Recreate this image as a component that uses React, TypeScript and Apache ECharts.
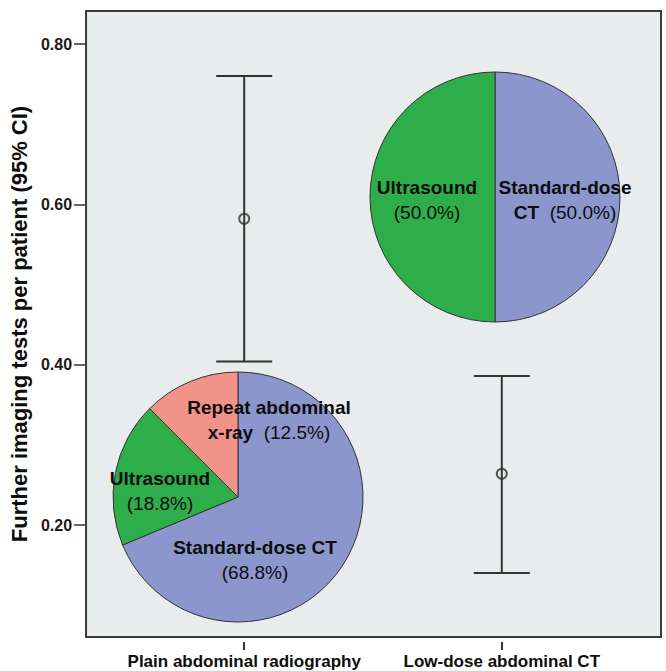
import React, { useEffect, useRef } from "react";
import * as echarts from "echarts";

// ---- data ----
const categories = ["Plain abdominal radiography", "Low-dose abdominal CT"];
const means = [0.582, 0.264];
const ciLower = [0.404, 0.14];
const ciUpper = [0.76, 0.386];
const yTicks = [0.2, 0.4, 0.6, 0.8];
const plainPieNames = ["Standard-dose CT", "Ultrasound", "Repeat abdominal x-ray"];
const plainPieValues = [68.8, 18.8, 12.5];
const lowDosePieNames = ["Standard-dose CT", "Ultrasound"];
const lowDosePieValues = [50.0, 50.0];

// ---- styles / layout ----
const FONT = "'Liberation Sans', Arial, sans-serif";
const sliceColors: Record<string, string> = {
  "Standard-dose CT": "#8A96CC",
  Ultrasound: "#2EAD4B",
  "Repeat abdominal x-ray": "#F2938A",
};
// words of the name kept on the first label line
const plainWrap = [2, 1, 2];
const lowDoseWrap = [1, 1];
// label block offsets relative to the pie centre (px)
const plainLabelOffsets = [
  [17, 63],
  [-78, -6],
  [31, -77],
];
const lowDoseLabelOffsets = [
  [70, 3],
  [-68, 3],
];
const plainCenter = [238, 497];
const lowDoseCenter = [495, 197];
const pieRadius = 125;

function makeFormatter(wrap: number[]) {
  return (p: any) => {
    const words = String(p.name).split(" ");
    const k = wrap[p.dataIndex];
    const first = words.slice(0, k).join(" ");
    const rest = words.slice(k).join(" ");
    const pct = "(" + Number(p.value).toFixed(1) + "%)";
    if (rest) return `{b|${first}}\n{b|${rest}}{p|  ${pct}}`;
    return `{b|${first}}\n{p|${pct}}`;
  };
}

function makeLayout(center: number[], offsets: number[][]) {
  return (params: any) => {
    const o = offsets[params.dataIndex];
    return {
      x: center[0] + o[0],
      y: center[1] + o[1],
      align: "center",
      verticalAlign: "middle",
    };
  };
}

const richStyles = {
  b: { fontFamily: FONT, fontWeight: "bold", fontSize: 19, color: "#0d0d0d", lineHeight: 25 },
  p: { fontFamily: FONT, fontWeight: "normal", fontSize: 19, color: "#0d0d0d", lineHeight: 25 },
};

function pieSeries(names: string[], values: number[], center: number[], wrap: number[], offsets: number[][]) {
  return {
    type: "pie",
    center,
    radius: pieRadius,
    startAngle: 90,
    clockwise: true,
    z: 5,
    data: names.map((n, i) => ({
      name: n,
      value: values[i],
      itemStyle: { color: sliceColors[n] },
    })),
    itemStyle: { borderColor: "#333", borderWidth: 1 },
    label: {
      show: true,
      position: "inside",
      formatter: makeFormatter(wrap),
      rich: richStyles,
    },
    labelLine: { show: false },
    labelLayout: makeLayout(center, offsets),
    emphasis: { disabled: true },
  };
}

export default function App() {
  const ref = useRef<HTMLDivElement>(null);
  useEffect(() => {
    if (!ref.current) return;
    const chart = echarts.init(ref.current, undefined, { renderer: "svg" });
    chart.setOption({
      animation: false,
      backgroundColor: "#ffffff",
      grid: {
        left: 83,
        right: 5,
        top: 11,
        bottom: 34,
        show: true,
        backgroundColor: "#E8ECEC",
        borderColor: "#3a3a3a",
        borderWidth: 2,
      },
      xAxis: {
        type: "value",
        min: 0.386,
        max: 2.618,
        offset: 5,
        splitLine: { show: false },
        axisLine: { show: false },
        axisTick: {
          show: true,
          customValues: [1, 2],
          length: 8,
          lineStyle: { color: "#333", width: 2 },
        },
        axisLabel: {
          customValues: [1, 2],
          formatter: (v: number) => categories[Math.round(v) - 1] ?? "",
          fontFamily: FONT,
          fontWeight: "bold",
          fontSize: 17,
          color: "#0d0d0d",
          margin: 11,
        },
      },
      yAxis: {
        type: "value",
        min: 0.0603,
        max: 0.8412,
        splitLine: { show: false },
        axisLine: { show: false },
        axisTick: {
          show: true,
          customValues: yTicks,
          length: 12,
          lineStyle: { color: "#333", width: 1.5 },
        },
        axisLabel: {
          customValues: yTicks,
          formatter: (v: number) => v.toFixed(2),
          fontFamily: FONT,
          fontWeight: "bold",
          fontSize: 16,
          color: "#1a1a1a",
          margin: 14,
        },
        name: "Further imaging tests per patient (95% CI)",
        nameLocation: "middle",
        nameGap: 50,
        nameTextStyle: {
          fontFamily: FONT,
          fontWeight: "bold",
          fontSize: 22,
          color: "#0d0d0d",
        },
      },
      series: [
        {
          type: "custom",
          z: 3,
          data: categories.map((_, i) => [i + 1, ciLower[i], ciUpper[i]]),
          renderItem: (params: any, api: any) => {
            const x = api.value(0);
            const lo = api.coord([x, api.value(1)]);
            const hi = api.coord([x, api.value(2)]);
            const hw = 28;
            const st = { stroke: "#333", lineWidth: 2 };
            return {
              type: "group",
              children: [
                { type: "line", shape: { x1: lo[0], y1: lo[1], x2: hi[0], y2: hi[1] }, style: st },
                { type: "line", shape: { x1: lo[0] - hw, y1: lo[1], x2: lo[0] + hw, y2: lo[1] }, style: st },
                { type: "line", shape: { x1: hi[0] - hw, y1: hi[1], x2: hi[0] + hw, y2: hi[1] }, style: st },
              ],
            };
          },
        },
        {
          type: "scatter",
          z: 4,
          symbol: "circle",
          symbolSize: 10,
          data: means.map((m, i) => [i + 1, m]),
          itemStyle: { color: "rgba(0,0,0,0)", borderColor: "#333", borderWidth: 2 },
          emphasis: { disabled: true },
        },
        pieSeries(plainPieNames, plainPieValues, plainCenter, plainWrap, plainLabelOffsets),
        pieSeries(lowDosePieNames, lowDosePieValues, lowDoseCenter, lowDoseWrap, lowDoseLabelOffsets),
      ],
    });
    return () => chart.dispose();
  }, []);
  return (
    <div
      ref={ref}
      style={{ position: "fixed", left: 0, top: 0, width: 666, height: 671 }}
    />
  );
}
